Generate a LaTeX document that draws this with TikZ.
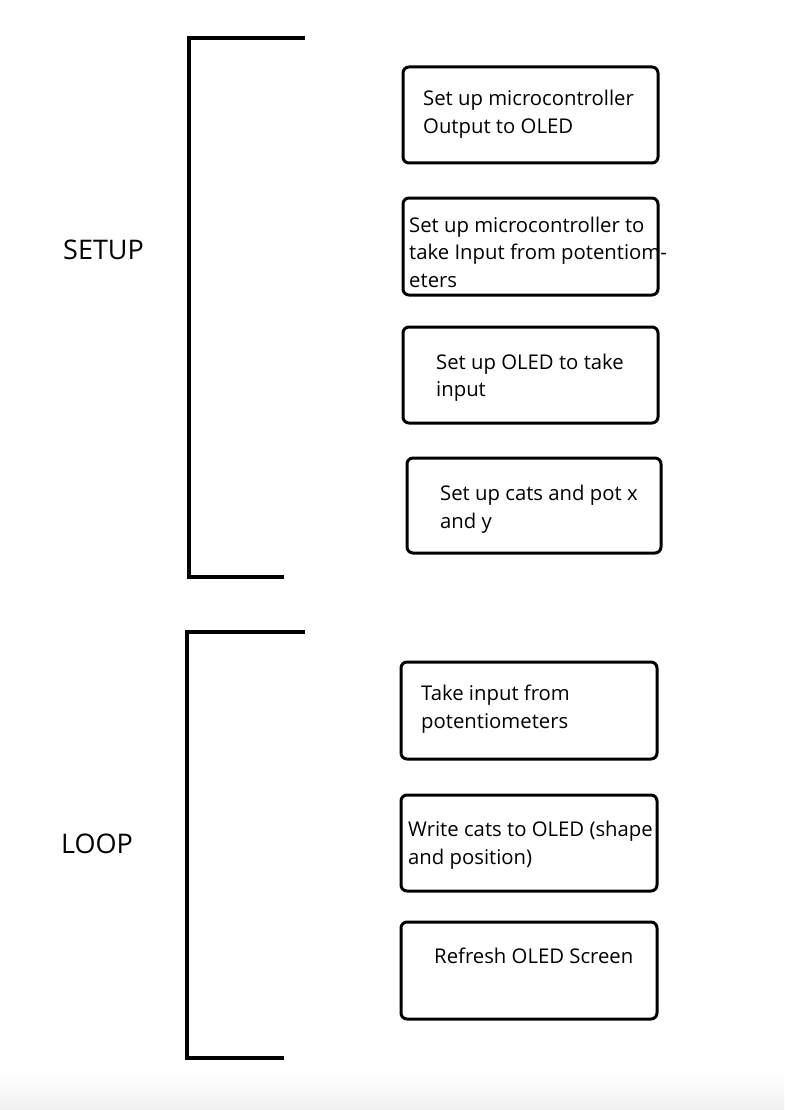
\documentclass[tikz,border=0pt]{standalone}
\usepackage{fontspec}
\setmainfont{Open Sans}
\begin{document}
\begin{tikzpicture}[x=1pt,y=-1pt,
  stepbox/.style={draw=black, line width=3pt, rounded corners=6pt, inner sep=0pt},
  txt/.style={anchor=base west, inner sep=0pt, font=\fontsize{20.3}{24}\selectfont},
  lbl/.style={anchor=base west, inner sep=0pt, font=\fontsize{27}{30}\selectfont},
  brk/.style={line width=3.5pt, line join=miter}]
\useasboundingbox (0,0) rectangle (784,1110);
\fill[white] (0,0) rectangle (784,1110);
\shade[top color=white, bottom color=black!6] (0,1072) rectangle (784,1110);
% brackets
\coordinate (s1) at (305,38); \coordinate (s2) at (189,38);
\coordinate (s3) at (189,577); \coordinate (s4) at (284,577);
\draw[brk] (s1) -- (s2) -- (s3) -- (s4);
\coordinate (l1) at (305,632); \coordinate (l2) at (187,632);
\coordinate (l3) at (187,1058); \coordinate (l4) at (284,1058);
\draw[brk] (l1) -- (l2) -- (l3) -- (l4);
\node[lbl] (setup) at (63,259) {SETUP};
\node[lbl] (loop) at (61,853) {LOOP};
% boxes
\draw[stepbox] (403,67) rectangle (658,163);
\node[txt] (t1a) at (423,106) {Set up microcontroller};
\node[txt] (t1b) at (423,134) {Output to OLED};
\draw[stepbox] (403,198) rectangle (658,295);
\node[txt] (t2a) at (409,232) {Set up microcontroller to};
\node[txt] (t2b) at (409,259) {take Input from potentiom-};
\node[txt] (t2c) at (409,287) {eters};
\draw[stepbox] (403,327) rectangle (658,423);
\node[txt] (t3a) at (436,369) {Set up OLED to take};
\node[txt] (t3b) at (436,396) {input};
\draw[stepbox] (407,458) rectangle (661,553);
\node[txt] (t4a) at (440,500) {Set up cats and pot x};
\node[txt] (t4b) at (440,528) {and y};
\draw[stepbox] (401,662) rectangle (657,759);
\node[txt] (t5a) at (421,700) {Take input from};
\node[txt] (t5b) at (421,728) {potentiometers};
\draw[stepbox] (401,795) rectangle (657,891);
\node[txt] (t6a) at (408,836) {Write cats to OLED (shape};
\node[txt] (t6b) at (408,864) {and position)};
\draw[stepbox] (401,922) rectangle (657,1019);
\node[txt] (t7a) at (434,963) {Refresh OLED Screen};
\end{tikzpicture}
\end{document}
